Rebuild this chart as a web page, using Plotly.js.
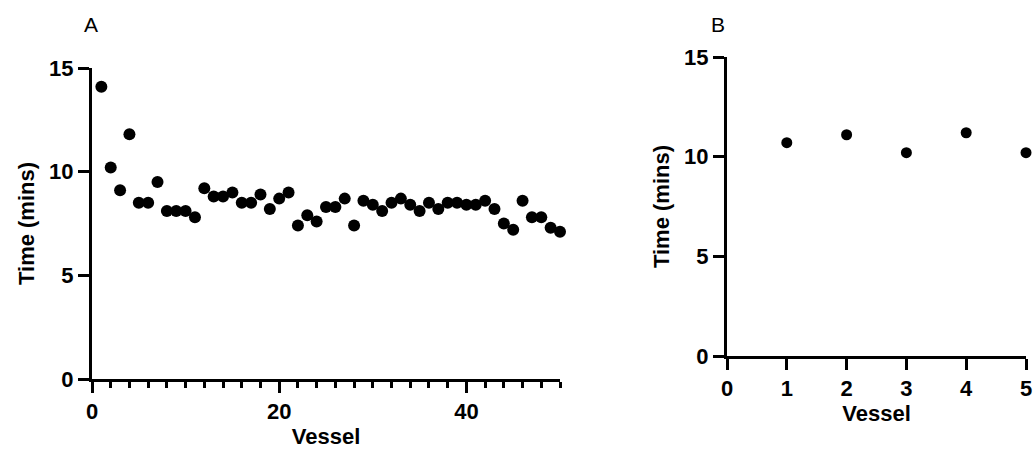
<!DOCTYPE html>
<html>
<head>
<meta charset="utf-8">
<script src="https://cdn.plot.ly/plotly-3.0.1.min.js"></script>
<style>html,body{margin:0;padding:0;background:#fff;}#chart{width:1035px;height:457px;}</style>
</head>
<body>
<div id="chart"></div>
<script>
// Panel A: 50 vessels
const vesselsA = Array.from({length: 50}, (_, i) => i + 1);
const timesA = [14.1, 10.2, 9.1, 11.8, 8.5, 8.5, 9.5, 8.1, 8.1, 8.1,
                7.8, 9.2, 8.8, 8.8, 9.0, 8.5, 8.5, 8.9, 8.2, 8.7,
                9.0, 7.4, 7.9, 7.6, 8.3, 8.3, 8.7, 7.4, 8.6, 8.4,
                8.1, 8.5, 8.7, 8.4, 8.1, 8.5, 8.2, 8.5, 8.5, 8.4,
                8.4, 8.6, 8.2, 7.5, 7.2, 8.6, 7.8, 7.8, 7.3, 7.1];
// Panel B: 5 vessels
const vesselsB = [1, 2, 3, 4, 5];
const timesB = [10.7, 11.1, 10.2, 11.2, 10.2];

// Tick labels
const xTicksA = [0, 20, 40];
const xTicksB = [0, 1, 2, 3, 4, 5];
const yTicks = [0, 5, 10, 15];

const panelLabels = ['A', 'B'];
const xTitle = 'Vessel';
const yTitle = 'Time (mins)';

const FAMILY = 'Arial';
const tickFont = {family: FAMILY, size: 22, color: '#000', weight: 'bold'};
const titleFont = {family: FAMILY, size: 22, color: '#000', weight: 'bold'};

const traces = [
  {x: vesselsA, y: timesA, type: 'scatter', mode: 'markers', xaxis: 'x', yaxis: 'y',
   marker: {color: '#000', size: 12}, cliponaxis: false, hoverinfo: 'x+y'},
  {x: vesselsB, y: timesB, type: 'scatter', mode: 'markers', xaxis: 'x2', yaxis: 'y2',
   marker: {color: '#000', size: 11}, cliponaxis: false, hoverinfo: 'x+y'}
];

const axisCommon = {
  showgrid: false, zeroline: false, showline: true, linecolor: '#000', linewidth: 3,
  ticks: 'outside', tickcolor: '#000', tickwidth: 3, ticklen: 11,
  tickfont: tickFont, automargin: false, fixedrange: true
};

const layout = {
  width: 1035, height: 457,
  margin: {l: 0, r: 0, t: 0, b: 0},
  paper_bgcolor: '#fff', plot_bgcolor: '#fff',
  showlegend: false,
  xaxis: Object.assign({}, axisCommon, {
    domain: [92/1035, 560/1035], range: [0, 50],
    tickmode: 'array', tickvals: xTicksA,
    anchor: 'y',
    minor: {dtick: 2, tick0: 0, ticks: 'outside', ticklen: 6, tickwidth: 3, tickcolor: '#000', showgrid: false},
    title: {text: xTitle, font: titleFont, standoff: 6}
  }),
  yaxis: Object.assign({}, axisCommon, {
    domain: [1 - 379/457, 1 - 68/457], range: [0, 15],
    tickmode: 'array', tickvals: yTicks,
    anchor: 'x',
    title: {text: yTitle, font: titleFont, standoff: 9}
  }),
  xaxis2: Object.assign({}, axisCommon, {
    domain: [727/1035, 1026/1035], range: [0, 5],
    tickmode: 'array', tickvals: xTicksB,
    anchor: 'y2',
    title: {text: xTitle, font: titleFont, standoff: 6}
  }),
  yaxis2: Object.assign({}, axisCommon, {
    domain: [1 - 356/457, 1 - 57/457], range: [0, 15],
    tickmode: 'array', tickvals: yTicks,
    anchor: 'x2',
    title: {text: yTitle, font: titleFont, standoff: 9}
  }),
  annotations: [
    {text: panelLabels[0], x: 91/1035, y: 1 - 25/457, xref: 'paper', yref: 'paper',
     xanchor: 'center', yanchor: 'middle', showarrow: false,
     font: {family: FAMILY, size: 21, color: '#000'}},
    {text: panelLabels[1], x: 718/1035, y: 1 - 25/457, xref: 'paper', yref: 'paper',
     xanchor: 'center', yanchor: 'middle', showarrow: false,
     font: {family: FAMILY, size: 21, color: '#000'}}
  ]
};

Plotly.newPlot('chart', traces, layout, {displayModeBar: false, staticPlot: true});
</script>
</body>
</html>
